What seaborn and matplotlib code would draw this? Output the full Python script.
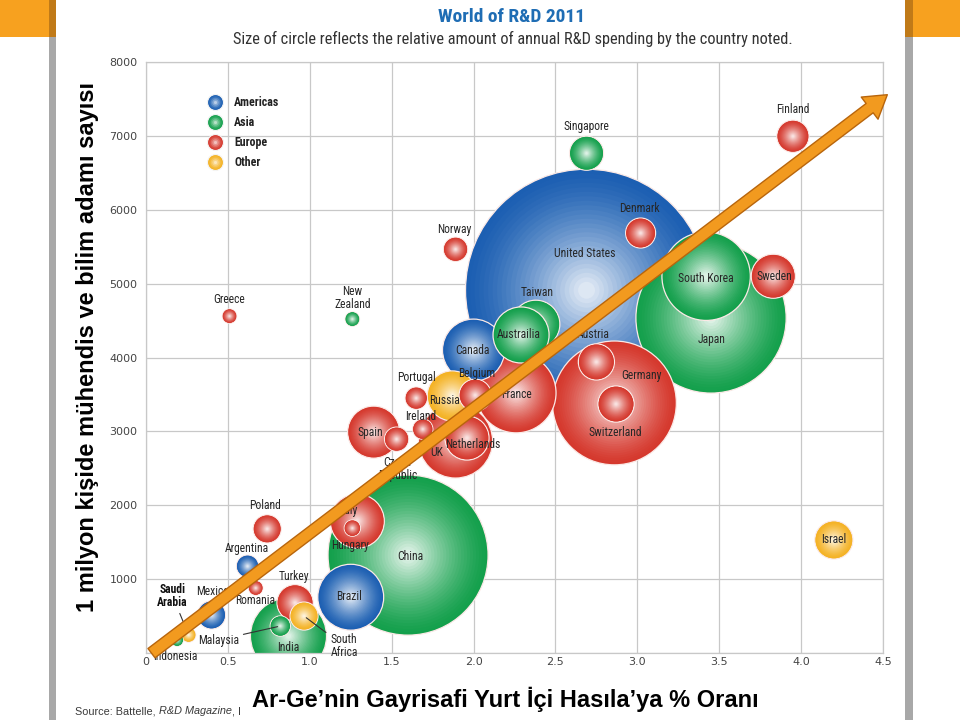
import numpy as np
import pandas as pd
import seaborn as sns
import matplotlib.pyplot as plt
from matplotlib import font_manager as fm
from matplotlib.lines import Line2D
from matplotlib.patches import Rectangle
from matplotlib.legend_handler import HandlerTuple
from matplotlib.colors import to_rgb

# data (draw order: big bubbles first)
countries = ['United States', 'China', 'Japan', 'Germany', 'South Korea', 'France',
             'India', 'UK', 'Brazil', 'Canada', 'Taiwan', 'Austrailia', 'Italy', 'Spain',
             'Russia', 'Sweden', 'Netherlands', 'Israel', 'Turkey', 'Switzerland',
             'Austria', 'Singapore', 'Finland', 'Belgium', 'Denmark', 'Mexico', 'Poland',
             'South Africa', 'Norway', 'Czech Republic', 'Argentina', 'Portugal',
             'Malaysia', 'Ireland', 'Hungary', 'Greece', 'New Zealand', 'Romania',
             'Saudi Arabia', 'Indonesia']
region = ['Americas', 'Asia', 'Asia', 'Europe', 'Asia', 'Europe',
          'Asia', 'Europe', 'Americas', 'Americas', 'Asia', 'Asia', 'Europe', 'Europe',
          'Other', 'Europe', 'Europe', 'Other', 'Europe', 'Europe',
          'Europe', 'Asia', 'Europe', 'Europe', 'Europe', 'Americas', 'Europe',
          'Other', 'Europe', 'Europe', 'Americas', 'Europe',
          'Asia', 'Europe', 'Europe', 'Europe', 'Asia', 'Europe',
          'Other', 'Asia']
gdp_pct = [2.69, 1.60, 3.45, 2.86, 3.42, 2.26,
           0.87, 1.89, 1.25, 2.00, 2.38, 2.29, 1.29, 1.39,
           1.87, 3.83, 1.96, 4.20, 0.91, 2.87,
           2.75, 2.69, 3.95, 2.01, 3.02, 0.40, 0.74,
           0.965, 1.89, 1.53, 0.62, 1.65,
           0.82, 1.69, 1.26, 0.51, 1.26, 0.67,
           0.26, 0.19]
researchers = [4910, 1325, 4535, 3385, 5100, 3520,
               230, 2870, 755, 4100, 4450, 4305, 1785, 2990,
               3480, 5100, 2910, 1530, 680, 3370,
               3940, 6765, 6995, 3490, 5685, 515, 1680,
               500, 5465, 2895, 1175, 3450,
               365, 3030, 1690, 4560, 4520, 880,
               245, 175]
spend = [405, 177, 156, 106, 54, 44,
         40, 38, 30, 26.6, 16, 21.7, 20.2, 18.7,
         17.3, 13.4, 13.4, 10.0, 9.0, 9.0,
         9.0, 8.0, 7.1, 7.1, 6.2, 5.4, 5.4,
         5.4, 4.0, 4.0, 3.35, 3.35,
         2.8, 2.8, 1.8, 1.4, 1.4, 1.4,
         1.4, 1.0]
regions = ['Americas', 'Asia', 'Europe', 'Other']
region_colors = {'Americas': '#1c5fb2', 'Asia': '#14a04c', 'Europe': '#d5382d', 'Other': '#f4b223'}

# label placement, pixels relative to bubble centre
label_text = {'New Zealand': 'New\nZealand', 'Czech Republic': 'Czech\nRepublic',
              'South Africa': 'South\nAfrica', 'Saudi Arabia': 'Saudi\nArabia'}
label_off = {'United States': (-2, 37), 'China': (2, -1), 'Japan': (1, -22), 'Germany': (27, 27),
             'South Korea': (0, -2), 'France': (0, -2), 'India': (0, -11), 'UK': (-19, -12),
             'Brazil': (-2, 1), 'Canada': (-1, 0), 'Taiwan': (1, 32), 'Austrailia': (-2, 0),
             'Italy': (-9, 11), 'Spain': (-3, 0), 'Russia': (-8, -5), 'Sweden': (1, 0),
             'Netherlands': (6, -6), 'Israel': (0, 0), 'Turkey': (-1, 26), 'Switzerland': (-1, -28),
             'Austria': (-3, 27), 'Singapore': (0, 27), 'Finland': (0, 27), 'Belgium': (1, 22),
             'Denmark': (-1, 25), 'Mexico': (1, 23), 'Poland': (-2, 23), 'South Africa': (40, -30),
             'Norway': (-1, 20), 'Czech Republic': (1, -30), 'Argentina': (-1, 18),
             'Portugal': (0, 21), 'Malaysia': (-62, -14), 'Ireland': (-2, 13), 'Hungary': (-2, -17),
             'Greece': (0, 17), 'New Zealand': (0, 21), 'Romania': (-1, -13),
             'Saudi Arabia': (-16, 39), 'Indonesia': (-2, -16)}
leader = ['Malaysia', 'South Africa', 'Saudi Arabia']

K = 75.0   # points^2 per unit of spend
NL = 26    # layers of the radial shading


def shade(base, f):
    t = 0.94 * (1 - f) ** 1.4
    b = np.array(to_rgb(base))
    return tuple(b * (1 - t) + t)


sns.set_style('white')
plt.rcParams['font.family'] = ['Liberation Sans', 'DejaVu Sans']

# pick a narrow face for the chart texts if one is there
names = {f.name for f in fm.fontManager.ttflist}
NF = None
for n in ['Liberation Sans Narrow', 'Roboto Condensed', 'Open Sans Condensed', 'Noto Sans Condensed']:
    if n in names:
        NF = dict(family=[n, 'DejaVu Sans'])
        nscale = 1.0
        break
if NF is None:
    if any(f.name == 'DejaVu Sans' and f.stretch == 'condensed' for f in fm.fontManager.ttflist):
        NF = dict(family='DejaVu Sans', stretch='condensed')
        nscale = 0.95
    else:
        NF = dict(family=['Roboto', 'DejaVu Sans'])
        nscale = 0.9

fig = plt.figure(figsize=(9.6, 7.2), dpi=100)
ax = fig.add_axes([146 / 960, 67 / 720, 737 / 960, 591 / 720])

rows = []
pal = {}
for c, reg, x, y, sp in zip(countries, region, gdp_pct, researchers, spend):
    for k in range(NL):
        f = 1 - 0.93 * k / (NL - 1)
        key = '%s%d' % (reg, k)
        pal[key] = shade(region_colors[reg], f)
        rows.append((x, y, sp * K * f * f, key, 0.9 if k == 0 else 0.0))
df = pd.DataFrame(rows, columns=['gdp', 'res', 's', 'key', 'lw'])

sns.scatterplot(data=df, x='gdp', y='res', hue='key', palette=pal, s=df['s'].values,
                linewidth=df['lw'].values, edgecolor='#fbe9e6', legend=False, ax=ax, zorder=2)

# country labels
for c, x, y in zip(countries, gdp_pct, researchers):
    dx, dy = label_off[c]
    kw = dict(ha='center', va='center', fontsize=8.4 * nscale, color='#262626', zorder=4,
              linespacing=1.0, **NF)
    if c == 'Saudi Arabia':
        kw['weight'] = 'bold'
        kw['color'] = '#111111'
    if c in leader:
        kw['arrowprops'] = dict(arrowstyle='-', color='#333333', lw=0.8, shrinkA=1, shrinkB=2)
    ax.annotate(label_text.get(c, c), xy=(x, y), xytext=(dx, dy), textcoords='offset pixels', **kw)

ax.set_xlim(0, 4.5)
ax.set_ylim(0, 8000)
xt = np.arange(0, 4.51, 0.5)
ax.set_xticks(xt)
ax.set_xticklabels(['0'] + ['%.1f' % v for v in xt[1:]], fontsize=8, color='#444444',
                   family='DejaVu Sans')
yt = np.arange(0, 8001, 1000)
ax.set_yticks(yt)
ax.set_yticklabels([''] + ['%d' % v for v in yt[1:]], fontsize=8, color='#444444',
                   family='DejaVu Sans')
ax.tick_params(axis='x', length=0, pad=3)
ax.tick_params(axis='y', length=0, pad=6)
ax.grid(True, color='#c8c8c8', lw=0.9)
ax.set_axisbelow(True)
for s in ax.spines.values():
    s.set_color('#c8c8c8')
    s.set_linewidth(0.9)
ax.set_xlabel('')
ax.set_ylabel('')

# legend
handles = []
for reg in regions:
    parts = []
    for f in [1.0, 0.8, 0.6, 0.4, 0.2]:
        parts.append(Line2D([], [], ls='none', marker='o', ms=11.5 * f,
                            mfc=shade(region_colors[reg], f),
                            mec='#f4f4f4' if f == 1.0 else 'none', mew=0.8))
    handles.append(tuple(parts))
leg = ax.legend(handles, regions, handler_map={tuple: HandlerTuple(ndivide=1, pad=0)},
                loc='upper left', bbox_to_anchor=((208 - 146) / 737, (653 - 96) / 591),
                frameon=False, borderpad=0, borderaxespad=0, handlelength=1.2,
                handletextpad=1.0, labelspacing=0.6,
                prop=dict(size=8.6 * nscale, weight='bold', **NF))
for t in leg.get_texts():
    t.set_color('#222222')

# trend arrow
ax.annotate('', xy=(4.54, 7580), xytext=(0.02, -25), xycoords='data',
            arrowprops=dict(arrowstyle='simple,head_length=0.8,head_width=1.0,tail_width=0.42',
                            mutation_scale=20, fc='#f29a1f', ec='#b8650c', lw=1.0),
            annotation_clip=False, zorder=6)

# titles and slide labels
fig.text(512 / 960, 1 - 17 / 720, 'World of R&D 2011', ha='center', va='center',
         color='#1f6db4', fontsize=14 * nscale, weight='bold', **NF)
fig.text(513 / 960, 1 - 39 / 720,
         'Size of circle reflects the relative amount of annual R&D spending by the country noted.',
         ha='center', va='center', color='#333333', fontsize=11.8 * nscale, **NF)

src = fig.text(75 / 960, 1 - 711 / 720, 'Source: Battelle, ', ha='left', va='center',
               fontsize=7.8, color='#3a3a3a')
ann = ax.annotate('R&D Magazine', xy=(1, 0.5), xycoords=src, va='center', ha='left',
                  fontsize=7.8, color='#3a3a3a', style='italic', annotation_clip=False)
ax.annotate(', I', xy=(1, 0.5), xycoords=ann,
            va='center', ha='left', fontsize=7.8, color='#3a3a3a', annotation_clip=False)

fig.text(505 / 960, 1 - 699 / 720, 'Ar-Ge’nin Gayrisafi Yurt İçi Hasıla’ya % Oranı',
         ha='center', va='center', fontsize=17, weight='bold', color='black', zorder=10)
fig.text(88 / 960, 1 - 347 / 720, '1 milyon kişide mühendis ve bilim adamı sayısı',
         ha='center', va='center', rotation=90, fontsize=17, weight='bold', color='black')

# slide decoration
fig.add_artist(Rectangle((0, 1 - 37 / 720), 56 / 960, 37 / 720, transform=fig.transFigure,
                         fc='#f7a11f', ec='none', zorder=0))
fig.add_artist(Rectangle((905 / 960, 1 - 37 / 720), 55 / 960, 37 / 720, transform=fig.transFigure,
                         fc='#f7a11f', ec='none', zorder=0))
fig.add_artist(Rectangle((49 / 960, 0), 7 / 960, 1 - 37 / 720, transform=fig.transFigure,
                         fc='#a8a8a8', ec='none', zorder=0))
fig.add_artist(Rectangle((905 / 960, 0), 8 / 960, 1 - 37 / 720, transform=fig.transFigure,
                         fc='#a8a8a8', ec='none', zorder=0))
fig.add_artist(Rectangle((49 / 960, 1 - 37 / 720), 7 / 960, 37 / 720, transform=fig.transFigure,
                         fc='#c07a18', ec='none', zorder=0))
fig.add_artist(Rectangle((905 / 960, 1 - 37 / 720), 8 / 960, 37 / 720, transform=fig.transFigure,
                         fc='#c07a18', ec='none', zorder=0))

fig.savefig('out.png', dpi=100)
